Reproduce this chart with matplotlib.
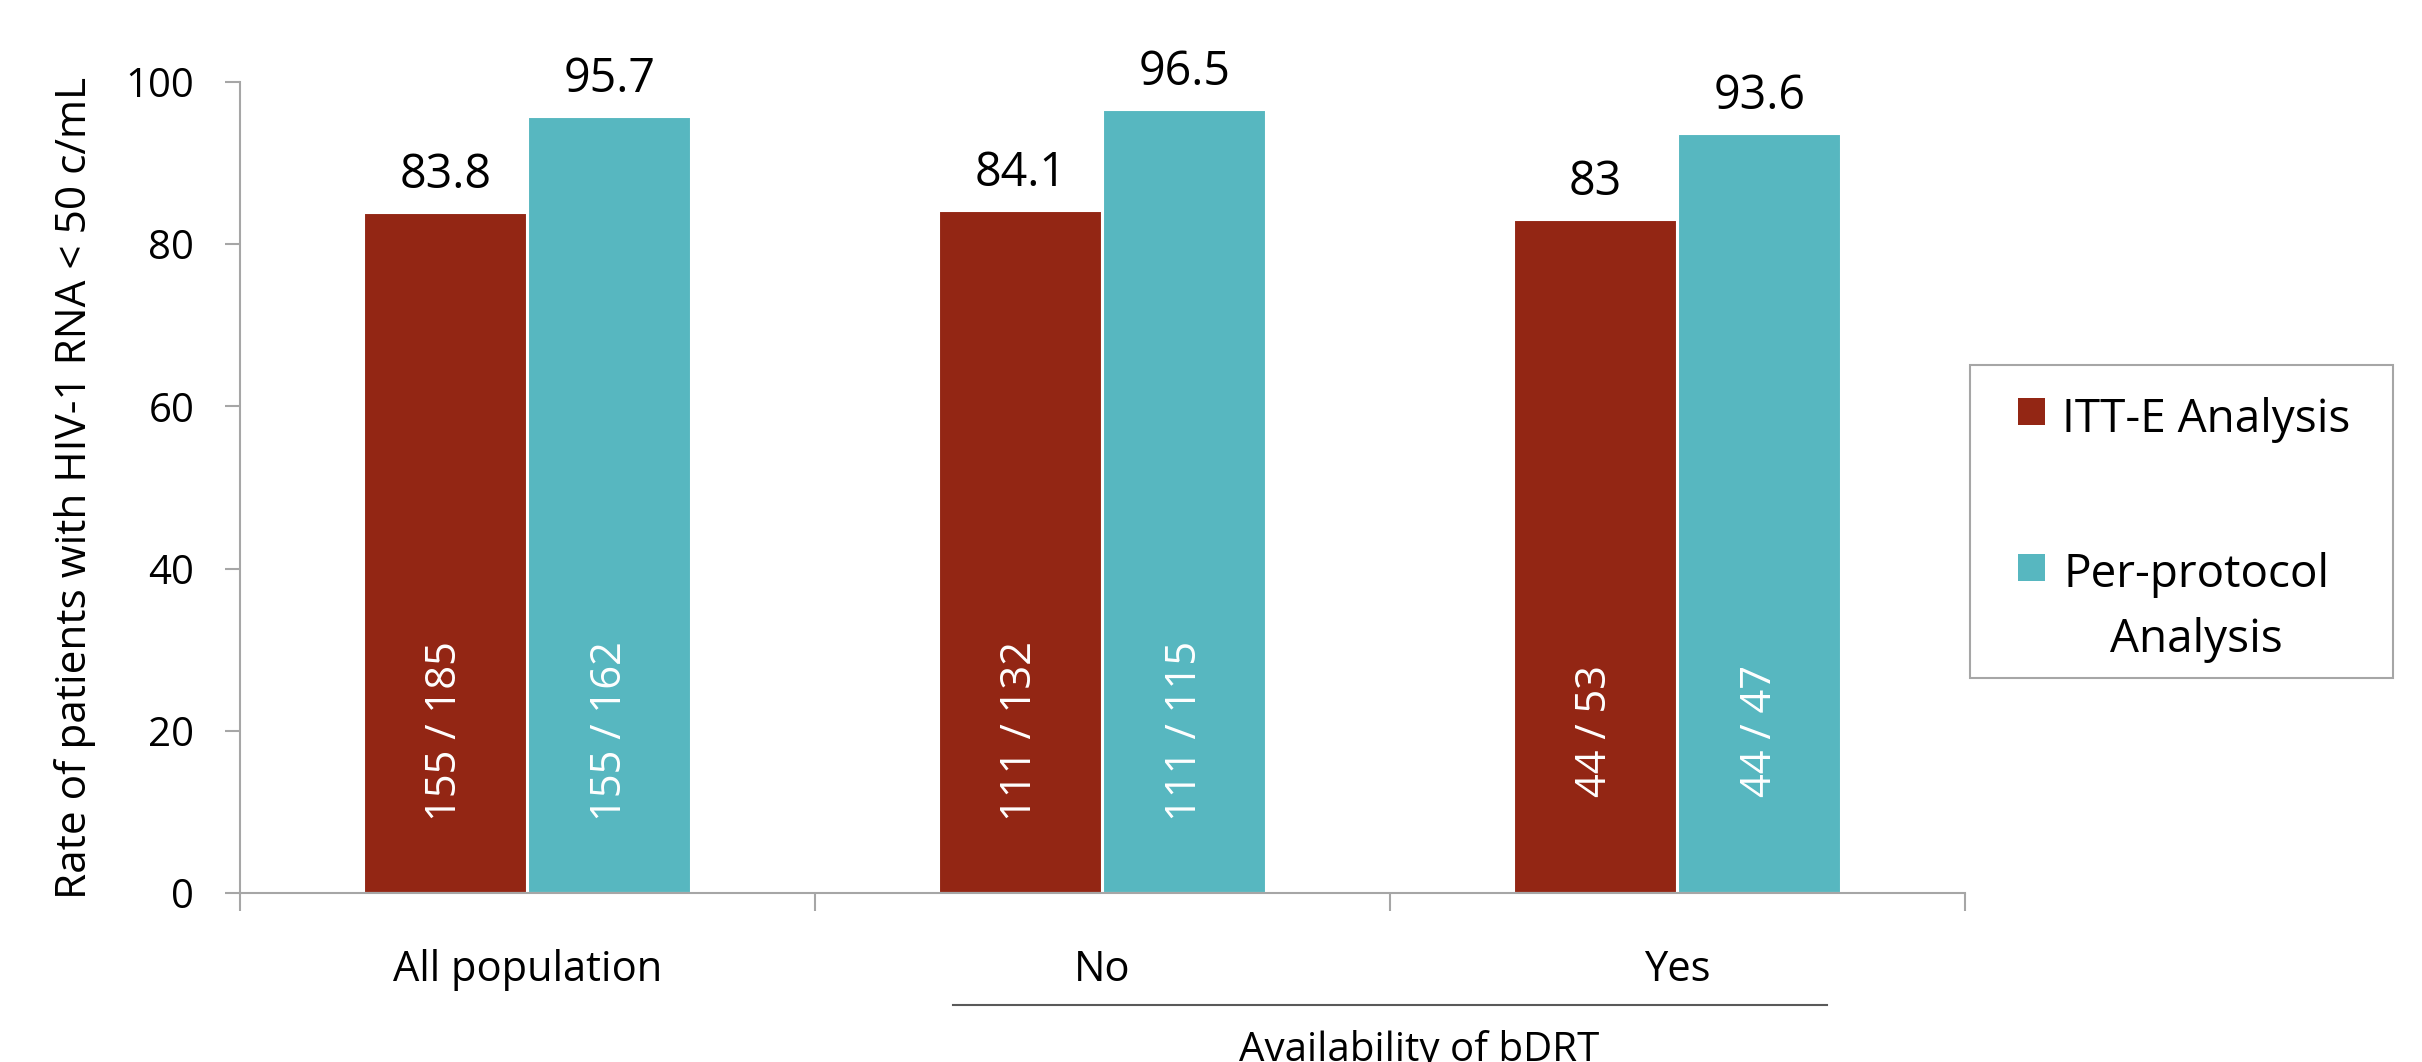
"""Virological response by analysis population, split by bDRT availability."""

import matplotlib

matplotlib.use("Agg")
import matplotlib.pyplot as plt
import numpy as np
from matplotlib.patches import Rectangle

# ---------------------------------------------------------------- data
groups = ["All population", "No", "Yes"]
itt_rate = [83.8, 84.1, 83]
pp_rate = [95.7, 96.5, 93.6]
itt_counts = ["155 / 185", "111 / 132", "44 / 53"]
pp_counts = ["155 / 162", "111 / 115", "44 / 47"]
series_names = ["ITT-E Analysis", "Per-protocol", "Analysis"]
subgroup_title = "Availability of bDRT"
y_label = "Rate of patients with HIV-1 RNA < 50 c/mL"

RED = "#932614"
TEAL = "#57B7C0"
GREY = "#A6A6A6"
FONT = ["Open Sans", "DejaVu Sans"]
plt.rcParams["font.family"] = FONT

W, H = 2422, 1062
fig = plt.figure(figsize=(W / 100, H / 100), dpi=100)
ax = fig.add_axes([240 / W, 1 - 893 / H, (1965 - 240) / W, (893 - 82) / H])

x = np.arange(len(groups))
bw = 0.283
b1 = ax.bar(x - 0.143, itt_rate, bw, color=RED, edgecolor="white", linewidth=1.5)
b2 = ax.bar(x + 0.143, pp_rate, bw, color=TEAL, edgecolor="white", linewidth=1.5)

for bars in (b1, b2):
    ax.bar_label(bars, fmt="%g", padding=10, fontsize=33.5)

# counts written vertically inside the bars
for xi, a, b in zip(x, itt_counts, pp_counts):
    ax.text(xi - 0.143, 20, a, rotation=90, ha="center", va="center",
            color="white", fontsize=30)
    ax.text(xi + 0.143, 20, b, rotation=90, ha="center", va="center",
            color="white", fontsize=30)

# --- axes ------------------------------------------------------------
ax.set_xlim(-0.5, len(groups) - 0.5)
ax.set_ylim(0, 100)
ax.set_yticks(np.arange(0, 101, 20))
ax.set_xticks(x, labels=groups)
ax.set_xticks(np.arange(-0.5, len(groups)), minor=True)
ax.tick_params(axis="x", which="major", length=0, pad=40, labelsize=30)
ax.tick_params(axis="x", which="minor", length=13, width=1.5, color=GREY)
ax.tick_params(axis="y", length=11, width=1.5, color=GREY, pad=22, labelsize=29)

for side in ("top", "right"):
    ax.spines[side].set_visible(False)
for side in ("left", "bottom"):
    ax.spines[side].set_color(GREY)
    ax.spines[side].set_linewidth(1.5)

ax.set_ylabel(y_label, fontsize=30.5)
ax.yaxis.set_label_coords(-0.0834, 0.5)

# second-level category: line under No / Yes plus its title
ax.plot([1 - 0.26, 2 + 0.26], [-0.138, -0.138], transform=ax.get_xaxis_transform(),
        clip_on=False, color="#595959", lw=1.5)
ax.text(1.55, -0.169, subgroup_title, transform=ax.get_xaxis_transform(),
        ha="center", va="top", fontsize=29)

# --- legend (drawn by hand so the handle sits on the first text line) --
fig.add_artist(Rectangle((1970 / W, 1 - 678 / H), (2393 - 1970) / W, (678 - 365) / H,
                         transform=fig.transFigure, fill=False, edgecolor=GREY, lw=1.5))
for top, colour in ((398, RED), (554, TEAL)):
    fig.add_artist(Rectangle((2018 / W, 1 - (top + 27) / H), 27 / W, 27 / H,
                             transform=fig.transFigure, facecolor=colour, lw=0))
fig.text(2062 / W, 1 - 432 / H, series_names[0], ha="left", va="baseline", fontsize=33)
fig.text(2196 / W, 1 - 587 / H, series_names[1], ha="center", va="baseline", fontsize=33)
fig.text(2196 / W, 1 - 652 / H, series_names[2], ha="center", va="baseline", fontsize=33)

fig.savefig("out.png", dpi=100)
